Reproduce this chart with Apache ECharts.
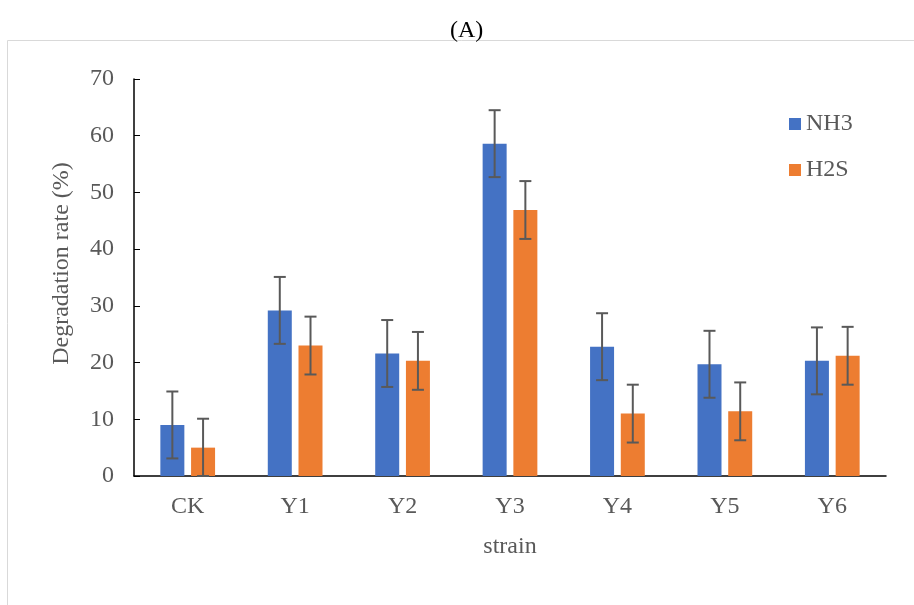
<!DOCTYPE html>
<html><head><meta charset="utf-8">
<script src="https://cdn.jsdelivr.net/npm/echarts@6/dist/echarts.min.js"></script>
<style>html,body{margin:0;padding:0;background:#fff}#c{width:914px;height:605px}</style>
</head><body><div id="c"></div>
<script>
var categories = ['CK','Y1','Y2','Y3','Y4','Y5','Y6'];
var nh3 = [9.0, 29.2, 21.6, 58.6, 22.8, 19.7, 20.3];
var h2s = [5.0, 23.0, 20.3, 46.9, 11.0, 11.4, 21.2];
var nh3Err = [5.9, 5.9, 5.9, 5.9, 5.9, 5.9, 5.9];
var h2sErr = [5.1, 5.1, 5.1, 5.1, 5.1, 5.1, 5.1];
var yTicks = [0,10,20,30,40,50,60,70];

var FONT = 'Liberation Serif';
var TXT = '#595959';
var FS = 24;
var BW = 24, GAPR = 0.28;
var OFF = (BW + BW*GAPR)/2;

function errSeries(vals, errs, sign){
  return {
    type:'custom',
    silent:true,
    z:10,
    data: vals.map(function(v,i){return [i, v, errs[i]];}),
    renderItem:function(params, api){
      var i = api.value(0), v = api.value(1), e = api.value(2);
      var hi = api.coord([i, v+e]);
      var lo = api.coord([i, Math.max(0, v-e)]);
      var x = hi[0] + sign*OFF;
      var cap = 6;
      var st = {stroke:'#595959', lineWidth:2};
      return {type:'group', children:[
        {type:'line', shape:{x1:x,y1:hi[1],x2:x,y2:lo[1]}, style:st},
        {type:'line', shape:{x1:x-cap,y1:hi[1],x2:x+cap,y2:hi[1]}, style:st},
        {type:'line', shape:{x1:x-cap,y1:lo[1],x2:x+cap,y2:lo[1]}, style:st}
      ]};
    },
    encode:{x:0,y:1}
  };
}

var chart = echarts.init(document.getElementById('c'));
chart.setOption({
  animation:false,
  textStyle:{fontFamily:FONT},
  title:{text:'(A)', left:445, top:14, textStyle:{fontFamily:FONT, fontSize:FS, fontWeight:'normal', color:'#000'}},
  graphic:[{type:'rect', shape:{x:7.5,y:40.5,width:1200,height:1000}, style:{fill:'none', stroke:'#d9d9d9', lineWidth:1}, silent:true, z:-10}],
  legend:{orient:'vertical', left:784, top:107, itemWidth:12, itemHeight:12, itemGap:22,
    textStyle:{fontFamily:FONT, fontSize:FS, color:TXT},
    data:[{name:'NH3', textStyle:{fontFamily:FONT}}, {name:'H2S', textStyle:{fontFamily:FONT}}], icon:'rect'},
  grid:{left:134, right:28, top:79, bottom:129},
  xAxis:{type:'category', data:categories,
    name:'strain', nameLocation:'middle', nameGap:59,
    nameTextStyle:{fontFamily:FONT, fontSize:FS, color:TXT},
    axisLine:{lineStyle:{color:'#000', width:1.5}},
    axisTick:{show:false},
    axisLabel:{fontFamily:FONT, fontSize:FS, color:TXT, margin:19}},
  yAxis:{type:'value', min:0, max:70, interval:10,
    name:'Degradation rate (%)', nameLocation:'middle', nameGap:60,
    nameTextStyle:{fontFamily:FONT, fontSize:FS, color:TXT, padding:[0,0,0,28]},
    axisLine:{show:true, lineStyle:{color:'#000', width:1.5}},
    axisTick:{show:true, inside:true, length:6, lineStyle:{color:'#000'}},
    splitLine:{show:false},
    axisLabel:{fontFamily:FONT, fontSize:FS, color:TXT, margin:20,
      formatter:function(v){return yTicks.indexOf(v)>=0 ? String(v) : '';}}},
  series:[
    {name:'NH3', type:'bar', data:nh3, barWidth:BW, barGap:(GAPR*100)+'%', itemStyle:{color:'#4472C4'}},
    {name:'H2S', type:'bar', data:h2s, barWidth:BW, barGap:(GAPR*100)+'%', itemStyle:{color:'#ED7D31'}},
    errSeries(nh3, nh3Err, -1),
    errSeries(h2s, h2sErr, 1)
  ]
});
</script></body></html>
